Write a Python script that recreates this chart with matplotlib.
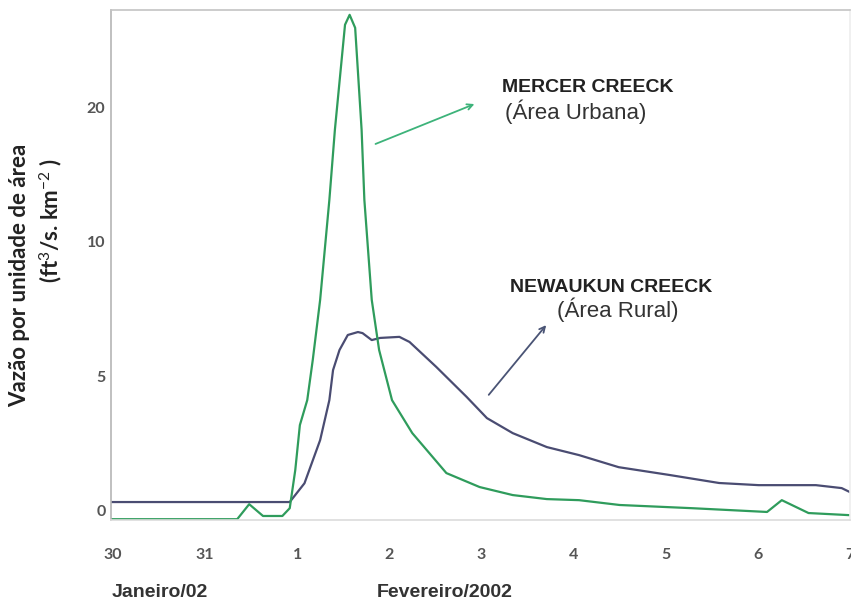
import numpy as np
import matplotlib
matplotlib.use("Agg")
import matplotlib.pyplot as plt

plt.rcParams['mathtext.fontset'] = 'custom'
plt.rcParams['mathtext.rm'] = 'Lato'
plt.rcParams['mathtext.bf'] = 'Lato:bold'

# dias contados a partir de 30/jan (0 = 30, 1 = 31, 2 = 1/fev, ...)
dias_labels = ['30', '31', '1', '2', '3', '4', '5', '6', '7']

# Mercer Creeck (area urbana)
t_mercer = [-0.02, 1.35, 1.48, 1.63, 1.84, 1.92, 1.98, 2.03, 2.11, 2.17, 2.25,
            2.35, 2.41, 2.52, 2.57, 2.63, 2.70, 2.73, 2.81, 2.89, 3.03, 3.25,
            3.62, 3.98, 4.34, 4.71, 5.06, 5.50, 6.29, 7.10, 7.26, 7.55, 8.0]
q_mercer = [-0.34, -0.34, 0.22, -0.22, -0.22, 0.07, 1.49, 3.17, 4.10, 5.60, 7.84,
            13.13, 18.36, 26.2, 26.94, 25.97, 18.36, 13.13, 7.84, 5.97, 4.10, 2.87,
            1.38, 0.86, 0.56, 0.41, 0.37, 0.19, 0.07, -0.07, 0.37, -0.11, -0.19]

# Newaukun Creeck (area rural)
t_newaukun = [-0.02, 1.92, 2.08, 2.25, 2.35, 2.39, 2.46, 2.55, 2.66, 2.71, 2.81,
              2.90, 3.11, 3.22, 3.51, 3.84, 4.06, 4.34, 4.71, 5.06, 5.49, 6.04,
              6.58, 7.01, 7.63, 7.91, 8.0]
q_newaukun = [0.30, 0.30, 1.0, 2.61, 4.10, 5.22, 5.97, 6.53, 6.64, 6.60, 6.34,
              6.42, 6.46, 6.27, 5.34, 4.22, 3.43, 2.87, 2.35, 2.05, 1.60, 1.31,
              1.01, 0.93, 0.93, 0.82, 0.67]

yticks = [0, 5, 10, 20]


# eixo y quebrado: 0-10 em passos de 5, acima de 10 em passos de 10
def fwd(y):
    y = np.asarray(y, dtype=float)
    return np.where(y <= 10, y / 5.0, 2.0 + (y - 10) / 10.0)


def inv(u):
    u = np.asarray(u, dtype=float)
    return np.where(u <= 2, u * 5.0, 10.0 + (u - 2) * 10.0)


fig = plt.figure(figsize=(8.51, 6.06), dpi=100)
ax = fig.add_axes([0.1304, 0.1419, 0.8684, 0.8416])
ax.set_yscale('function', functions=(fwd, inv))

verde = '#2f9c5c'
azul = '#4a4c72'
ax.plot(t_newaukun, q_newaukun, color=azul, lw=1.6)
ax.plot(t_mercer, q_mercer, color=verde, lw=1.6)

ax.set_xlim(-0.02, 8.0)
ax.set_ylim(-0.37, 27.3)
ax.set_xticks(range(len(dias_labels)))
ax.set_xticklabels(dias_labels)
ax.set_yticks(yticks)
ax.set_yticklabels([str(v) for v in yticks])
ax.minorticks_off()
ax.tick_params(length=0, labelcolor='#555555', labelsize=11.5)
ax.tick_params(axis='x', pad=20)
ax.tick_params(axis='y', pad=4)
for lab in ax.get_xticklabels() + ax.get_yticklabels():
    lab.set_fontfamily('Lato')
    lab.set_fontweight('bold')

ax.spines['left'].set_color('#b5b5b5')
ax.spines['top'].set_color('#c4c4c4')
ax.spines['right'].set_color('#eeeeee')
ax.spines['bottom'].set_color('#dcdcdc')
for s in ax.spines.values():
    s.set_linewidth(1.2)

# rotulos das curvas
ax.text(0.529, 0.849, 'MERCER CREECK', transform=ax.transAxes, ha='left', va='center',
        fontsize=14, fontweight='bold', family='Liberation Sans', color='#222222')
ax.text(0.533, 0.800, '(Área Urbana)', transform=ax.transAxes, ha='left', va='center',
        fontsize=16, family='Liberation Sans', color='#333333')
ax.text(0.540, 0.455, 'NEWAUKUN CREECK', transform=ax.transAxes, ha='left', va='center',
        fontsize=14, fontweight='bold', family='Liberation Sans', color='#222222')
ax.text(0.6035, 0.412, '(Área Rural)', transform=ax.transAxes, ha='left', va='center',
        fontsize=16, family='Liberation Sans', color='#333333')

ax.annotate('', xy=(0.4953, 0.8176), xytext=(0.3545, 0.7353), xycoords='axes fraction',
            arrowprops=dict(arrowstyle='->', color='#3db37a', lw=1.3))
ax.annotate('', xy=(0.5913, 0.3863), xytext=(0.5088, 0.2412), xycoords='axes fraction',
            arrowprops=dict(arrowstyle='->', color='#4a5475', lw=1.3))

# titulo do eixo y em duas linhas
fig.text(0.0235, 0.546, 'Vazão por unidade de área', rotation=90, ha='center', va='center',
         fontsize=16, fontweight='bold', family='Lato', color='#222222')
fig.text(0.061, 0.637, r'(ft$^{3}$/s. km$^{-2}$ )', rotation=90, ha='center', va='center',
         fontsize=16, fontweight='bold', family='Lato', color='#222222')

# meses
fig.text(0.188, 0.0215, 'Janeiro/02', ha='center', va='center', fontsize=14,
         fontweight='bold', family='Liberation Sans', color='#333333')
fig.text(0.523, 0.0215, 'Fevereiro/2002', ha='center', va='center', fontsize=14,
         fontweight='bold', family='Liberation Sans', color='#333333')

fig.savefig('out.png', dpi=100)
